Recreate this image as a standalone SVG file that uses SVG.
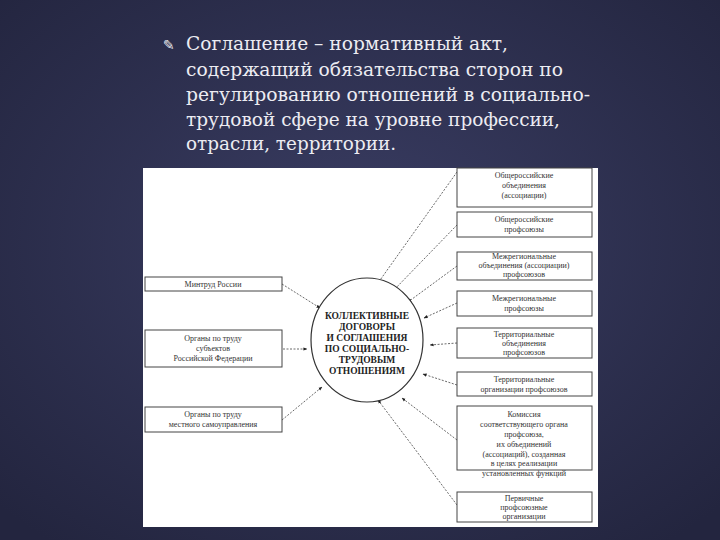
<svg xmlns="http://www.w3.org/2000/svg" width="720" height="540" viewBox="0 0 720 540">
<defs>
<radialGradient id="bg" cx="0.5" cy="0.45" r="0.7"><stop offset="0" stop-color="#3a3d63"/><stop offset="1" stop-color="#23253f"/></radialGradient>
<marker id="ar" viewBox="0 0 10 10" refX="9" refY="5" markerWidth="5" markerHeight="5" orient="auto"><path d="M0,1 L10,5 L0,9 Z" fill="#222"/></marker>
<style>
.t{font-family:'DejaVu Serif','Liberation Serif',serif;fill:#ececf2;font-size:18px}
.b{fill:#fff;stroke:#444;stroke-width:1}
.s{font-family:'Liberation Serif',serif;font-size:8px;fill:#333;text-anchor:middle}
.c line{stroke:#444;stroke-width:0.8;stroke-dasharray:2 1.5;marker-end:url(#ar)}
</style>
</defs>
<rect width="720" height="540" fill="url(#bg)"/>
<text x="163" y="50" font-family="DejaVu Sans,sans-serif" font-size="14" fill="#ececf2">✎</text>
<text class="t"><tspan x="186" y="50" textLength="322" lengthAdjust="spacingAndGlyphs">Соглашение – нормативный акт,</tspan><tspan x="186" y="76" textLength="377" lengthAdjust="spacingAndGlyphs">содержащий обязательства сторон по</tspan><tspan x="186" y="101" textLength="404" lengthAdjust="spacingAndGlyphs">регулированию отношений в социально-</tspan><tspan x="186" y="126" textLength="374" lengthAdjust="spacingAndGlyphs">трудовой сфере на уровне профессии,</tspan><tspan x="186" y="150" textLength="210" lengthAdjust="spacingAndGlyphs">отрасли, территории.</tspan></text>
<rect x="143" y="168" width="455" height="359" fill="#fff"/>
<g class="c">
<line x1="282" y1="284" x2="320" y2="308"/>
<line x1="283" y1="349" x2="307" y2="349"/>
<line x1="282" y1="420" x2="322" y2="387"/>
<line x1="457" y1="172" x2="373" y2="290"/>
<line x1="457" y1="225" x2="392" y2="292"/>
<line x1="457" y1="266" x2="408" y2="302"/>
<line x1="457" y1="303" x2="424" y2="318"/>
<line x1="457" y1="343" x2="430" y2="345"/>
<line x1="457" y1="385" x2="423" y2="374"/>
<line x1="457" y1="440" x2="402" y2="398"/>
<line x1="457" y1="505" x2="378" y2="400"/>
</g>
<g id="center"><ellipse cx="367" cy="340" rx="56" ry="62" fill="#fff" stroke="#333" stroke-width="1.2"/>
<text font-family="Liberation Serif,serif" font-size="9.5" font-weight="bold" fill="#222" text-anchor="middle"><tspan x="367" y="319">КОЛЛЕКТИВНЫЕ</tspan><tspan x="367" y="330">ДОГОВОРЫ</tspan><tspan x="367" y="341">И СОГЛАШЕНИЯ</tspan><tspan x="367" y="352">ПО СОЦИАЛЬНО-</tspan><tspan x="367" y="363">ТРУДОВЫМ</tspan><tspan x="367" y="374">ОТНОШЕНИЯМ</tspan></text></g>
<g id="l1"><rect class="b" x="145" y="277" width="137" height="14"/><text class="s" x="213" y="287">Минтруд России</text></g>
<g id="l2"><rect class="b" x="145" y="330" width="137" height="37"/><text class="s"><tspan x="213" y="341">Органы по труду</tspan><tspan x="213" y="351">субъектов</tspan><tspan x="213" y="361">Российской Федерации</tspan></text></g>
<g id="l3"><rect class="b" x="145" y="407" width="137" height="25"/><text class="s"><tspan x="213" y="417">Органы по труду</tspan><tspan x="213" y="427">местного самоуправления</tspan></text></g>
<g id="r1"><rect class="b" x="457" y="168" width="135" height="39"/><text class="s"><tspan x="524" y="178">Общероссийские</tspan><tspan x="524" y="188">объединения</tspan><tspan x="524" y="198">(ассоциации)</tspan></text></g>
<g id="r2"><rect class="b" x="457" y="212" width="135" height="25"/><text class="s"><tspan x="524" y="222">Общероссийские</tspan><tspan x="524" y="232">профсоюзы</tspan></text></g>
<g id="r3"><rect class="b" x="457" y="252" width="135" height="28"/><text class="s"><tspan x="524" y="259">Межрегиональные</tspan><tspan x="524" y="268">объединения (ассоциации)</tspan><tspan x="524" y="277">профсоюзов</tspan></text></g>
<g id="r4"><rect class="b" x="457" y="291" width="135" height="25"/><text class="s"><tspan x="524" y="301">Межрегиональные</tspan><tspan x="524" y="311">профсоюзы</tspan></text></g>
<g id="r5"><rect class="b" x="457" y="328" width="135" height="30"/><text class="s"><tspan x="524" y="337">Территориальные</tspan><tspan x="524" y="346">объединения</tspan><tspan x="524" y="355">профсоюзов</tspan></text></g>
<g id="r6"><rect class="b" x="457" y="372" width="135" height="24"/><text class="s"><tspan x="524" y="382">Территориальные</tspan><tspan x="524" y="392">организации профсоюзов</tspan></text></g>
<g id="r7"><rect class="b" x="457" y="406" width="135" height="64"/><text class="s"><tspan x="524" y="417">Комиссия</tspan><tspan x="524" y="427">соответствующего органа</tspan><tspan x="524" y="437">профсоюза,</tspan><tspan x="524" y="447">их объединений</tspan><tspan x="524" y="457">(ассоциаций), созданная</tspan><tspan x="524" y="466">в целях реализации</tspan></text><text class="s" x="524" y="476">установленных функций</text></g>
<g id="r8"><rect class="b" x="457" y="492" width="135" height="30"/><text class="s"><tspan x="524" y="501">Первичные</tspan><tspan x="524" y="510">профсоюзные</tspan><tspan x="524" y="519">организации</tspan></text></g>
</svg>
